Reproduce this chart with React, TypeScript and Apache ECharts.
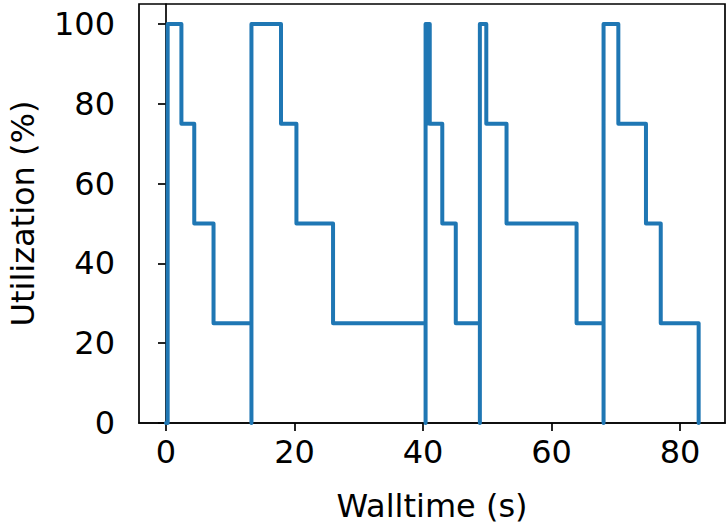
import React, { useEffect, useRef } from "react";
import * as echarts from "echarts";

// Step changes of utilization: value holds from each time until the next
const times = [0, 0.26, 2.4, 4.4, 7.4, 13.3, 13.3, 17.9, 20.3, 26.0, 40.4, 40.4, 40.65, 40.75, 41.05, 43.0, 45.1, 48.85, 48.85, 49.85, 53.0, 63.9, 68.1, 68.1, 70.4, 74.7, 77.0, 82.9];
const utilization = [0, 100, 75, 50, 25, 0, 100, 75, 50, 25, 0, 100, 75, 100, 75, 50, 25, 0, 100, 75, 50, 25, 0, 100, 75, 50, 25, 0];
const xTicks = [0, 20, 40, 60, 80];
const yTicks = [0, 20, 40, 60, 80, 100];

const FONT = "DejaVu Sans";

export default function App() {
  const ref = useRef<HTMLDivElement>(null);
  useEffect(() => {
    if (!ref.current) return;
    const chart = echarts.init(ref.current, null, { renderer: "svg" });
    const data = times.map((t, i) => [t, utilization[i]]);
    chart.setOption({
      animation: false,
      backgroundColor: "#ffffff",
      grid: {
        left: 139,
        right: 2,
        top: 4,
        bottom: 102,
        show: true,
        borderColor: "#000000",
        borderWidth: 1.7,
        containLabel: false,
        outerBoundsMode: "none",
      },
      xAxis: {
        type: "value",
        min: -4.2,
        max: 87,
        name: "Walltime (s)",
        nameLocation: "middle",
        nameGap: 67,
        nameTextStyle: { fontFamily: FONT, fontSize: 32, color: "#000" },
        axisLine: { show: true, lineStyle: { color: "#000", width: 1.7 } },
        axisTick: { show: true, inside: false, length: 8, lineStyle: { color: "#000", width: 1.7 }, customValues: xTicks },
        axisLabel: { fontFamily: FONT, fontSize: 32, color: "#000", margin: 13, customValues: xTicks },
        splitLine: { show: false },
      },
      yAxis: {
        type: "value",
        min: 0,
        max: 105,
        name: "Utilization (%)",
        nameLocation: "middle",
        nameGap: 100,
        nameTextStyle: { fontFamily: FONT, fontSize: 32, color: "#000" },
        axisLine: { show: true, lineStyle: { color: "#000", width: 1.7 } },
        axisTick: { show: true, inside: false, length: 8, lineStyle: { color: "#000", width: 1.7 }, customValues: yTicks },
        axisLabel: { fontFamily: FONT, fontSize: 32, color: "#000", margin: 24, customValues: yTicks },
        splitLine: { show: false },
      },
      series: [
        {
          type: "line",
          step: "end",
          data,
          showSymbol: false,
          symbol: "none",
          lineStyle: { color: "#1f77b4", width: 4, join: "round", cap: "round" },
          z: 3,
        },
      ],
    });
    return () => chart.dispose();
  }, []);
  return (
    <div
      ref={ref}
      style={{ position: "fixed", left: 0, top: 0, width: 727, height: 525 }}
    />
  );
}
